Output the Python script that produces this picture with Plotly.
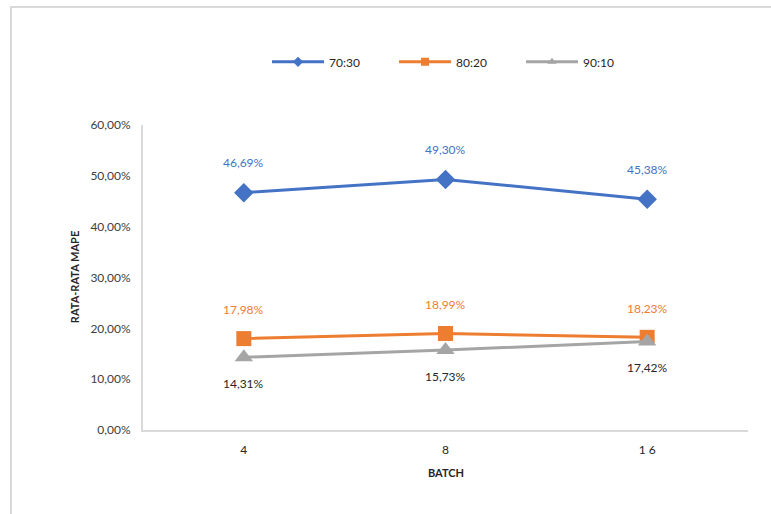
import plotly.graph_objects as go

# Batch sizes on the category axis
batch_labels = ["4", "8", "1 6"]

# Average MAPE (%) per train/test split
mape_70_30 = [46.69, 49.30, 45.38]
mape_80_20 = [17.98, 18.99, 18.23]
mape_90_10 = [14.31, 15.73, 17.42]

y_ticks = [0, 10, 20, 30, 40, 50, 60]

FONT = "Lato"
BLUE = "#4472C4"
ORANGE = "#ED7D31"
GRAY = "#A5A5A5"


def pct(v):
    return f"{v:.2f}".replace(".", ",") + "%"


series = [
    ("70:30", mape_70_30, BLUE, "diamond", 15, BLUE, 30),
    ("80:20", mape_80_20, ORANGE, "square", 15, ORANGE, 29),
    ("90:10", mape_90_10, GRAY, "triangle-up", 16, "#262626", -26),
]

fig = go.Figure()
annotations = []
for name, vals, color, symbol, size, label_color, shift in series:
    fig.add_trace(go.Scatter(
        x=batch_labels, y=vals, mode="lines+markers", name=name,
        line=dict(color=color, width=3),
        marker=dict(symbol=symbol, size=size, color=color),
        showlegend=False,
    ))
    # smaller marker for the legend entry
    fig.add_trace(go.Scatter(
        x=[None], y=[None], mode="lines+markers", name=name,
        line=dict(color=color, width=3),
        marker=dict(symbol=symbol, size=8, color=color),
    ))
    # value labels, positioned by category index
    for i, yv in enumerate(vals):
        annotations.append(dict(
            x=i, y=yv, xref="x", yref="y", text=pct(yv), showarrow=False,
            yshift=shift, font=dict(family=FONT, size=12, color=label_color),
        ))

annotations.append(dict(
    x=-0.113, y=0.5, xref="paper", yref="paper", text="<b>RATA-RATA MAPE</b>",
    textangle=-90, showarrow=False, xanchor="center", yanchor="middle",
    font=dict(family=FONT, size=11, color="#262626"),
))
annotations.append(dict(
    x=0.5, y=-0.138, xref="paper", yref="paper", text="<b>BATCH</b>",
    showarrow=False, xanchor="center", yanchor="middle",
    font=dict(family=FONT, size=11, color="#262626"),
))

fig.update_layout(
    width=771, height=514,
    margin=dict(l=143, r=23, t=125, b=84),
    paper_bgcolor="white", plot_bgcolor="white",
    font=dict(family=FONT, size=12, color="#404040"),
    annotations=annotations,
    showlegend=True,
    legend=dict(
        orientation="h", x=0.205, y=1.207, xanchor="left", yanchor="middle",
        font=dict(family=FONT, size=12, color="#262626"),
        entrywidth=60, entrywidthmode="pixels", itemwidth=52,
    ),
    shapes=[dict(
        type="rect", xref="paper", yref="paper",
        x0=-0.2182, x1=1.05, y0=-0.3, y1=1.387,
        line=dict(color="#D9D9D9", width=2), fillcolor="rgba(0,0,0,0)",
        layer="below",
    )],
)
fig.update_xaxes(
    type="category", range=[-0.5, 2.5], showgrid=False, showline=True,
    linecolor="#D9D9D9", linewidth=2, ticks="", ticklabelstandoff=8,
    tickfont=dict(family=FONT, size=12, color="#262626"), zeroline=False,
)
fig.update_yaxes(
    range=[0, 60], tickvals=y_ticks, ticktext=[pct(v) for v in y_ticks],
    showgrid=False, showline=True, linecolor="#D9D9D9", linewidth=2,
    ticks="", zeroline=False, ticklabelstandoff=8,
    tickfont=dict(family=FONT, size=12, color="#404040"),
)

fig.write_html("out.html")
